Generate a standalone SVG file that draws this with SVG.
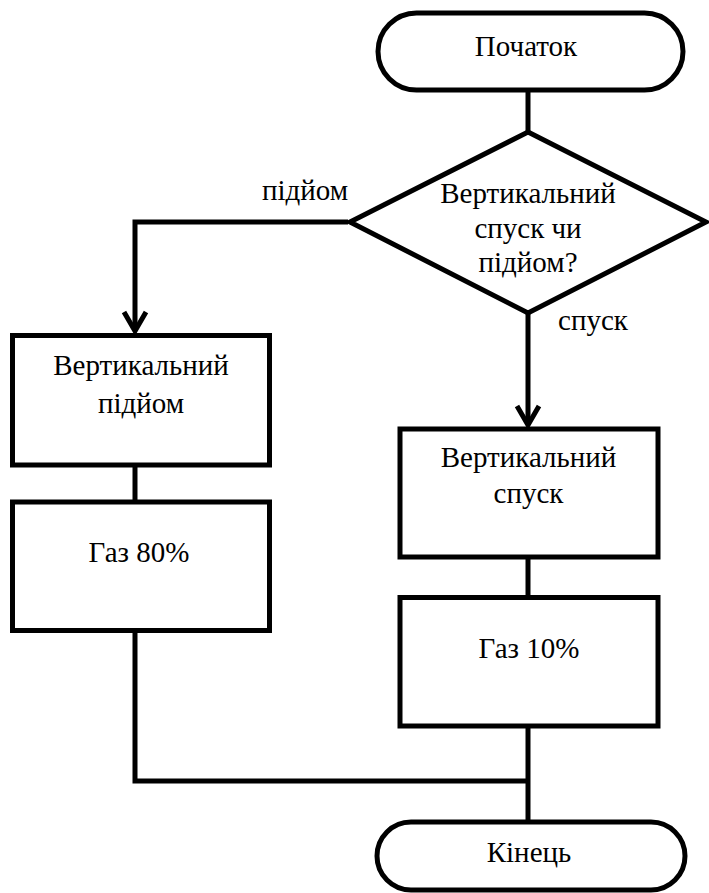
<svg xmlns="http://www.w3.org/2000/svg" width="709" height="893" viewBox="0 0 709 893">
<style>
.shape{fill:#ffffff;stroke:#000000;stroke-width:5}
.conn{fill:none;stroke:#000000;stroke-width:5}
text{font-family:"Liberation Serif","Times New Roman",serif;font-size:29px;fill:#000000;text-anchor:middle}
</style>
<defs>
<marker id="arr" markerUnits="userSpaceOnUse" viewBox="-24 -15 28 30" markerWidth="28" markerHeight="30" refX="0" refY="0" orient="auto" overflow="visible">
<path d="M-19,-11 L0,0 L-19,11" fill="none" stroke="#000000" stroke-width="5" stroke-linejoin="miter"/>
</marker>
</defs>
<rect width="709" height="893" fill="#ffffff"/>
<g id="connectors">
<path class="conn" d="M528,90 L528,132"/>
<path class="conn" d="M348,222 L135,222 L135,331" marker-end="url(#arr)"/>
<path class="conn" d="M528,313 L528,425" marker-end="url(#arr)"/>
<path class="conn" d="M135,465 L135,502"/>
<path class="conn" d="M528,557 L528,597.5"/>
<path class="conn" d="M135,630 L135,781 L528,781"/>
<path class="conn" d="M528,726 L528,822"/>
<text x="305" y="200">підйом</text>
<text x="593" y="330">спуск</text>
</g>
<g id="start">
<rect class="shape" x="378" y="13" width="305" height="77" rx="38.5" ry="38.5"/>
<text x="526" y="56">Початок</text>
</g>
<g id="decision">
<polygon class="shape" points="528,132 706,222 528,313 350,222"/>
<text x="528" y="203">Вертикальний</text>
<text x="528" y="238">спуск чи</text>
<text x="528" y="272">підйом?</text>
</g>
<g id="ascent">
<rect class="shape" x="12.5" y="335.5" width="257" height="129.5"/>
<text x="141" y="375">Вертикальний</text>
<text x="141" y="413">підйом</text>
</g>
<g id="gas80">
<rect class="shape" x="12.5" y="502" width="257" height="128.5"/>
<text x="139" y="562">Газ 80%</text>
</g>
<g id="descent">
<rect class="shape" x="400" y="429" width="258" height="128"/>
<text x="528.5" y="467">Вертикальний</text>
<text x="528.5" y="503">спуск</text>
</g>
<g id="gas10">
<rect class="shape" x="400" y="597.5" width="258" height="128.5"/>
<text x="529" y="658">Газ 10%</text>
</g>
<g id="end">
<rect class="shape" x="377" y="822" width="308" height="68" rx="34" ry="34"/>
<text x="529" y="862">Кінець</text>
</g>
</svg>
